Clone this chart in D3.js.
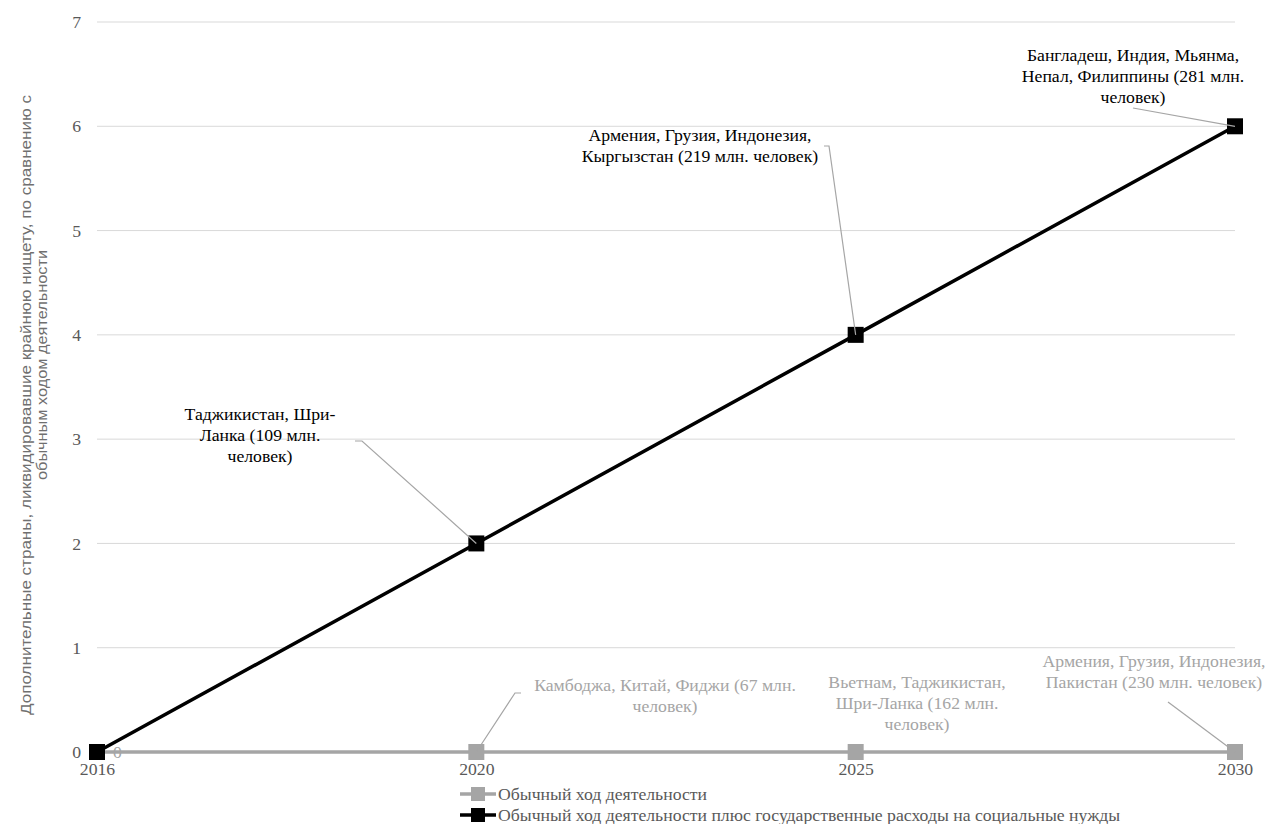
<!DOCTYPE html>
<html><head><meta charset="utf-8">
<script src="https://cdn.jsdelivr.net/npm/d3@7"></script>
<style>body{margin:0;background:#fff;}svg{display:block;} .serif{font-family:"Liberation Serif","Times New Roman",serif;}</style>
</head><body>
<script>
const years = ["2016","2020","2025","2030"];
const seriesNames = ["Обычный ход деятельности","Обычный ход деятельности плюс государственные расходы на социальные нужды"];
const baseline = [0,0,0,0];
const withSpending = [0,2,4,6];
const yTicks = [0,1,2,3,4,5,6,7];
const yTitle = ["Дополнительные страны, ликвидировавшие крайнюю нищету, по сравнению с","обычным ходом деятельности"];
const labelsSpending = [null,
  ["Таджикистан, Шри-","Ланка  (109 млн.","человек)"],
  ["Армения, Грузия, Индонезия,","Кыргызстан (219 млн. человек)"],
  ["Бангладеш, Индия, Мьянма,","Непал, Филиппины (281 млн.","человек)"]];
const labelsBaseline = [["0"],
  ["Камбоджа, Китай, Фиджи (67 млн.","человек)"],
  ["Вьетнам, Таджикистан,","Шри-Ланка (162 млн.","человек)"],
  ["Армения, Грузия, Индонезия,","Пакистан (230 млн. человек)"]];

const W=1266,H=824;
const svg=d3.select("body").append("svg").attr("width",W).attr("height",H);
const x=d3.scalePoint().domain(years).range([97,1235]).padding(0);
const y=d3.scaleLinear().domain([0,7]).range([752,22]);
const FS=17.7;
const grayText="#595959", grid="#d9d9d9", gSeries="#a5a5a5";

// gridlines
svg.append("g").selectAll("line").data(yTicks.filter(d=>d>0)).join("line")
 .attr("x1",97).attr("x2",1235).attr("y1",d=>y(d)).attr("y2",d=>y(d))
 .attr("stroke",grid).attr("stroke-width",1);

// y axis labels
const yAxis=d3.axisLeft(y).tickValues(yTicks).tickSize(0).tickPadding(0).tickFormat(d3.format("d"));
const ya=svg.append("g").attr("transform","translate(81,0)").call(yAxis).attr("font-family",null).attr("font-size",null);
ya.select(".domain").remove();
ya.selectAll("text").attr("class","serif").style("font-size",FS+"px").attr("fill",grayText);

// x axis
const xAxis=d3.axisBottom(x).tickSize(0).tickPadding(0);
const xa=svg.append("g").attr("transform","translate(0,762)").call(xAxis).attr("font-family",null).attr("font-size",null);
xa.select(".domain").remove();
xa.selectAll("text").attr("class","serif").style("font-size",FS+"px").attr("fill",grayText).attr("dy","0.71em");
svg.append("line").attr("x1",97).attr("x2",1235).attr("y1",752).attr("y2",752).attr("stroke",grid);

// y title
const yt=svg.append("g").attr("transform","rotate(-90)");
yt.selectAll("text").data(yTitle).join("text")
 .attr("x",(d,i)=>i===0?-405:-365).attr("y",(d,i)=>31+i*16)
 .attr("text-anchor","middle")
 .style("font-family","'Liberation Sans Narrow','Arial Narrow','Liberation Sans',Arial,sans-serif")
 .style("font-size","14px").attr("fill","#6f6f6f")
 .attr("textLength",(d,i)=>i===0?620:230).attr("lengthAdjust","spacingAndGlyphs")
 .text(d=>d);

const line=d3.line().x((d,i)=>x(years[i])).y(d=>y(d));
function drawSeries(vals,color,w){
  svg.append("path").datum(vals).attr("d",line).attr("fill","none").attr("stroke",color).attr("stroke-width",w);
  svg.append("g").selectAll("rect").data(vals).join("rect")
   .attr("x",(d,i)=>x(years[i])-8).attr("y",d=>y(d)-8).attr("width",16).attr("height",16).attr("fill",color);
}
drawSeries(baseline,gSeries,3.5);
drawSeries(withSpending,"#000",3.5);

// annotations
function annot(lines,cx,cy,color,anchor){
  const t=svg.append("text").attr("class","serif").style("font-size",FS+"px").attr("fill",color).attr("text-anchor",anchor||"middle");
  lines.forEach((l,i)=>t.append("tspan").attr("x",cx).attr("y",cy+i*21).text(l));
}
function leader(pts,color){
  svg.append("path").attr("d",d3.line()(pts)).attr("fill","none").attr("stroke",color).attr("stroke-width",1.2);
}
// spending series labels
leader([[355,441],[362,441],[x(years[1]),y(withSpending[1])]],"#a6a6a6");
annot(labelsSpending[1],260,420,"#000");
leader([[824,146],[829,146],[x(years[2]),y(withSpending[2])]],"#a6a6a6");
annot(labelsSpending[2],700,141,"#000");
leader([[1133,108],[x(years[3]),y(withSpending[3])]],"#a6a6a6");
annot(labelsSpending[3],1133,61,"#000");
// baseline labels
annot(labelsBaseline[0],113,758,gSeries,"start");
leader([[521,693],[515,693],[x(years[1]),y(baseline[1])]],gSeries);
annot(labelsBaseline[1],665,691,gSeries);
annot(labelsBaseline[2],917,688,gSeries);
leader([[1168,702],[x(years[3]),y(baseline[3])]],gSeries);
annot(labelsBaseline[3],1154,667,gSeries);

// legend
const lg=svg.append("g");
seriesNames.forEach((n,i)=>{
  const c=i===0?gSeries:"#000", yy=794+i*21;
  lg.append("line").attr("x1",460).attr("x2",496).attr("y1",yy).attr("y2",yy).attr("stroke",c).attr("stroke-width",3.5);
  lg.append("rect").attr("x",471).attr("y",yy-7).attr("width",14).attr("height",14).attr("fill",c);
  lg.append("text").attr("class","serif").attr("x",498).attr("y",yy+6).style("font-size",FS+"px").attr("fill",grayText).text(n);
});
</script>
</body></html>
